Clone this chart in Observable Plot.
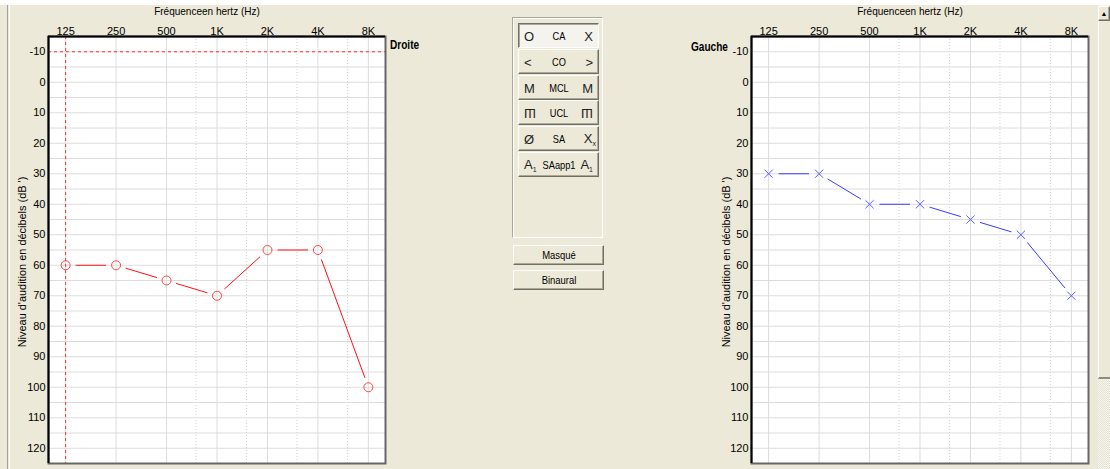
<!DOCTYPE html>
<html><head><meta charset="utf-8">
<script src="https://cdn.jsdelivr.net/npm/d3@7"></script>
<script src="https://cdn.jsdelivr.net/npm/@observablehq/plot@0.6"></script>
<style>
html,body{margin:0;padding:0;width:1110px;height:469px;overflow:hidden;background:#ECE9D8;
  font-family:"Liberation Sans",Arial,sans-serif;color:#000;}
#root{position:relative;width:1110px;height:469px;}
.abs{position:absolute;}
.title{font-size:11.5px;white-space:nowrap;transform:translateX(-50%) scaleX(0.87);}
.ylab{font-size:11.5px;white-space:nowrap;transform:translate(-50%,-50%) rotate(-90deg) scaleX(0.95);}
.side{font-size:12px;font-weight:bold;transform-origin:0 0;transform:scaleX(0.84);}
.btn{box-sizing:border-box;background:#ECE9D8;border-top:1px solid #fff;border-left:1px solid #fff;
  border-right:1px solid #716f64;border-bottom:1px solid #716f64;box-shadow:inset -1px -1px 0 #aca899;font-size:10.5px;}
.btn.down{border-top:1px solid #716f64;border-left:1px solid #716f64;border-right:1px solid #fff;border-bottom:1px solid #fff;
  background:#f4f3ee;box-shadow:inset 1px 1px 0 #aca899;}
.btn span{position:absolute;top:50%;transform:translateY(-50%);}
.sym{font-size:13px;color:#222;font-weight:300;}
</style></head><body>
<div id="root"></div>
<script>
// ---- data ----
const freqs = [125, 250, 500, 1000, 2000, 4000, 8000];
const freqLabels = ["125", "250", "500", "1K", "2K", "4K", "8K"];
const midFreqs = [750, 1500, 3000, 6000];
const dbTicks = [-10, 0, 10, 20, 30, 40, 50, 60, 70, 80, 90, 100, 110, 120];
const dbGrid = [-10, -5, 0, 5, 10, 15, 20, 25, 30, 35, 40, 45, 50, 55, 60, 65, 70, 75, 80, 85, 90, 95, 100, 105, 110, 115, 120];
const droiteDb = [60, 60, 65, 70, 55, 55, 100];   // oreille droite (rouge, O)
const gaucheDb = [30, 30, 40, 40, 45, 50, 70];    // oreille gauche (bleu, X)
const droiteRefFreq = [125];
const droiteRefDb = [-10];
const xTitle = "Fréquenceen hertz (Hz)";
const yTitle = "Niveau d'audition en décibels (dB ')";
const legendLeft = ["O", "&lt;", "M", "Ш", "Ø", "A<sub style='font-size:7px'>1</sub>"];
const legendMid = ["CA", "CO", "MCL", "UCL", "SA", "SAapp1"];
const legendRight = ["X", "&gt;", "M", "Ш", "X<sub style='font-size:7px'>x</sub>", "A<sub style='font-size:7px'>1</sub>"];
const buttonLabels = ["Masqué", "Binaural"];

const xDomain = [98.8, 10122];
const yDomain = [125, -15];
const font = '"Liberation Sans",Arial,sans-serif';

function audiogram(values, o) {
  const pts = freqs.map((f, i) => ({f, db: values[i]}));
  const segs = d3.pairs(pts).map(([a, b]) => ({x1: a.f, y1: a.db, x2: b.f, y2: b.db}));
  return Plot.plot({
    width: 387, height: 469, marginLeft: 48, marginTop: 36, marginBottom: 6, marginRight: 2,
    style: {background: "transparent", fontFamily: font, fontSize: "11px", color: "#000", overflow: "visible"},
    x: {type: "log", domain: xDomain, axis: null},
    y: {domain: yDomain, axis: null},
    marks: [
      Plot.frame({fill: "white", stroke: null}),
      Plot.ruleX(midFreqs, {stroke: "#d2d2d2", strokeDasharray: "1,2"}),
      Plot.ruleX(freqs, {stroke: "#dcdcdc"}),
      Plot.ruleY(dbGrid, {stroke: "#dcdcdc"}),
      ...(o.refs ? [
        Plot.ruleX(droiteRefFreq, {stroke: "#ff3030", strokeWidth: 1, strokeDasharray: "3,3"}),
        Plot.ruleY(droiteRefDb, {stroke: "#ff3030", strokeWidth: 1, strokeDasharray: "3,3"})
      ] : []),
      Plot.text(freqs, {x: d => d, text: (d, i) => freqLabels[i], frameAnchor: "top", lineAnchor: "bottom", dy: -1.5, fill: "#000"}),
      Plot.text(dbTicks, {y: d => d, text: d => String(d), frameAnchor: "left", textAnchor: "end", dx: -3, fill: "#000"}),
      Plot.arrow(segs, {x1: "x1", y1: "y1", x2: "x2", y2: "y2", headLength: 0, insetStart: 10, insetEnd: 10,
        stroke: o.line, strokeWidth: 1, strokeLinecap: "butt"}),
      Plot.dot(pts, {x: "f", y: "db", symbol: o.symbol, r: o.r, stroke: o.dot, strokeWidth: 1}),
      Plot.frame({stroke: "#666", strokeWidth: 2}),
      Plot.ruleX([xDomain[0]], {stroke: "#000", strokeWidth: 2}),
      Plot.ruleY([yDomain[1]], {stroke: "#000", strokeWidth: 2})
    ]
  });
}

const root = document.getElementById("root");
function add(html, cls, css) {
  const d = document.createElement("div");
  d.className = "abs " + (cls || "");
  d.style.cssText = css;
  d.innerHTML = html;
  root.appendChild(d);
  return d;
}

// chrome
add("", "", "left:0;top:0;width:1110px;height:5px;background:#fff;");
add("", "", "left:7px;top:5px;width:1px;height:464px;background:#a0a0a0;");
add("", "", "left:9px;top:5px;width:1px;height:464px;background:#fbfbf8;");

// charts
const left = audiogram(droiteDb, {refs: true, line: "#ff1010", dot: "#ff4545", symbol: "circle", r: 4.5});
left.style.cssText += ";position:absolute;left:0;top:0;";
root.appendChild(left);
const right = audiogram(gaucheDb, {refs: false, line: "#3a3aff", dot: "#5a5aff", symbol: "times", r: 3.8});
right.style.cssText += ";position:absolute;left:703px;top:0;";
root.appendChild(right);

add(xTitle, "title", "left:207px;top:5px;");
add(xTitle, "title", "left:910px;top:5px;");
add(yTitle, "ylab", "left:22px;top:262px;");
add(yTitle, "ylab", "left:726px;top:262px;");
add("Droite", "side", "left:390px;top:38px;");
add("Gauche", "side", "left:691px;top:40px;");

// middle legend panel
add("", "", "left:512px;top:17px;width:91px;height:221px;border:1px solid #aca899;box-sizing:border-box;border-right-color:#fff;border-bottom-color:#fff;box-shadow:inset 1px 1px 0 #fff;");
legendMid.forEach((m, i) => {
  const top = 23 + Math.round(i * 25.8);
  add(`<span class="sym" style="left:5px">${legendLeft[i]}</span>` +
      `<span style="left:50%;transform:translate(-50%,-50%) scaleX(0.88)">${m}</span>` +
      `<span class="sym" style="right:${i === 4 ? 2 : 5}px">${legendRight[i]}</span>`,
      "btn" + (i === 0 ? " down" : ""), `left:518px;top:${top}px;width:81px;height:25px;`);
});
root.querySelectorAll(".btn span").forEach(s => { if (s.textContent === "Ш") s.style.transform = "translateY(-50%) scaleY(-1)"; });

buttonLabels.forEach((b, i) => {
  add(`<span style="left:50%;transform:translate(-50%,-50%) scaleX(0.9)">${b}</span>`, "btn",
      `left:513px;top:${245 + i * 25}px;width:91px;height:20px;`);
});

// scrollbar
add("", "", "left:1098px;top:5px;width:12px;height:464px;background:#f3f1e6;");
add("▲", "btn", "left:1098px;top:6px;width:12px;height:15px;font-size:7px;text-align:center;line-height:13px;");
add("", "", "left:1098px;top:21px;width:12px;height:358px;background:#ECE9D8;border-left:1px solid #fff;box-sizing:border-box;border-bottom:2px solid #8e8c80;");
add("", "", "left:1098px;top:380px;width:12px;height:89px;background-image:repeating-conic-gradient(#f6f5ef 0 25%, #e6e3d3 0 50%);background-size:2px 2px;");
</script>
</body></html>
